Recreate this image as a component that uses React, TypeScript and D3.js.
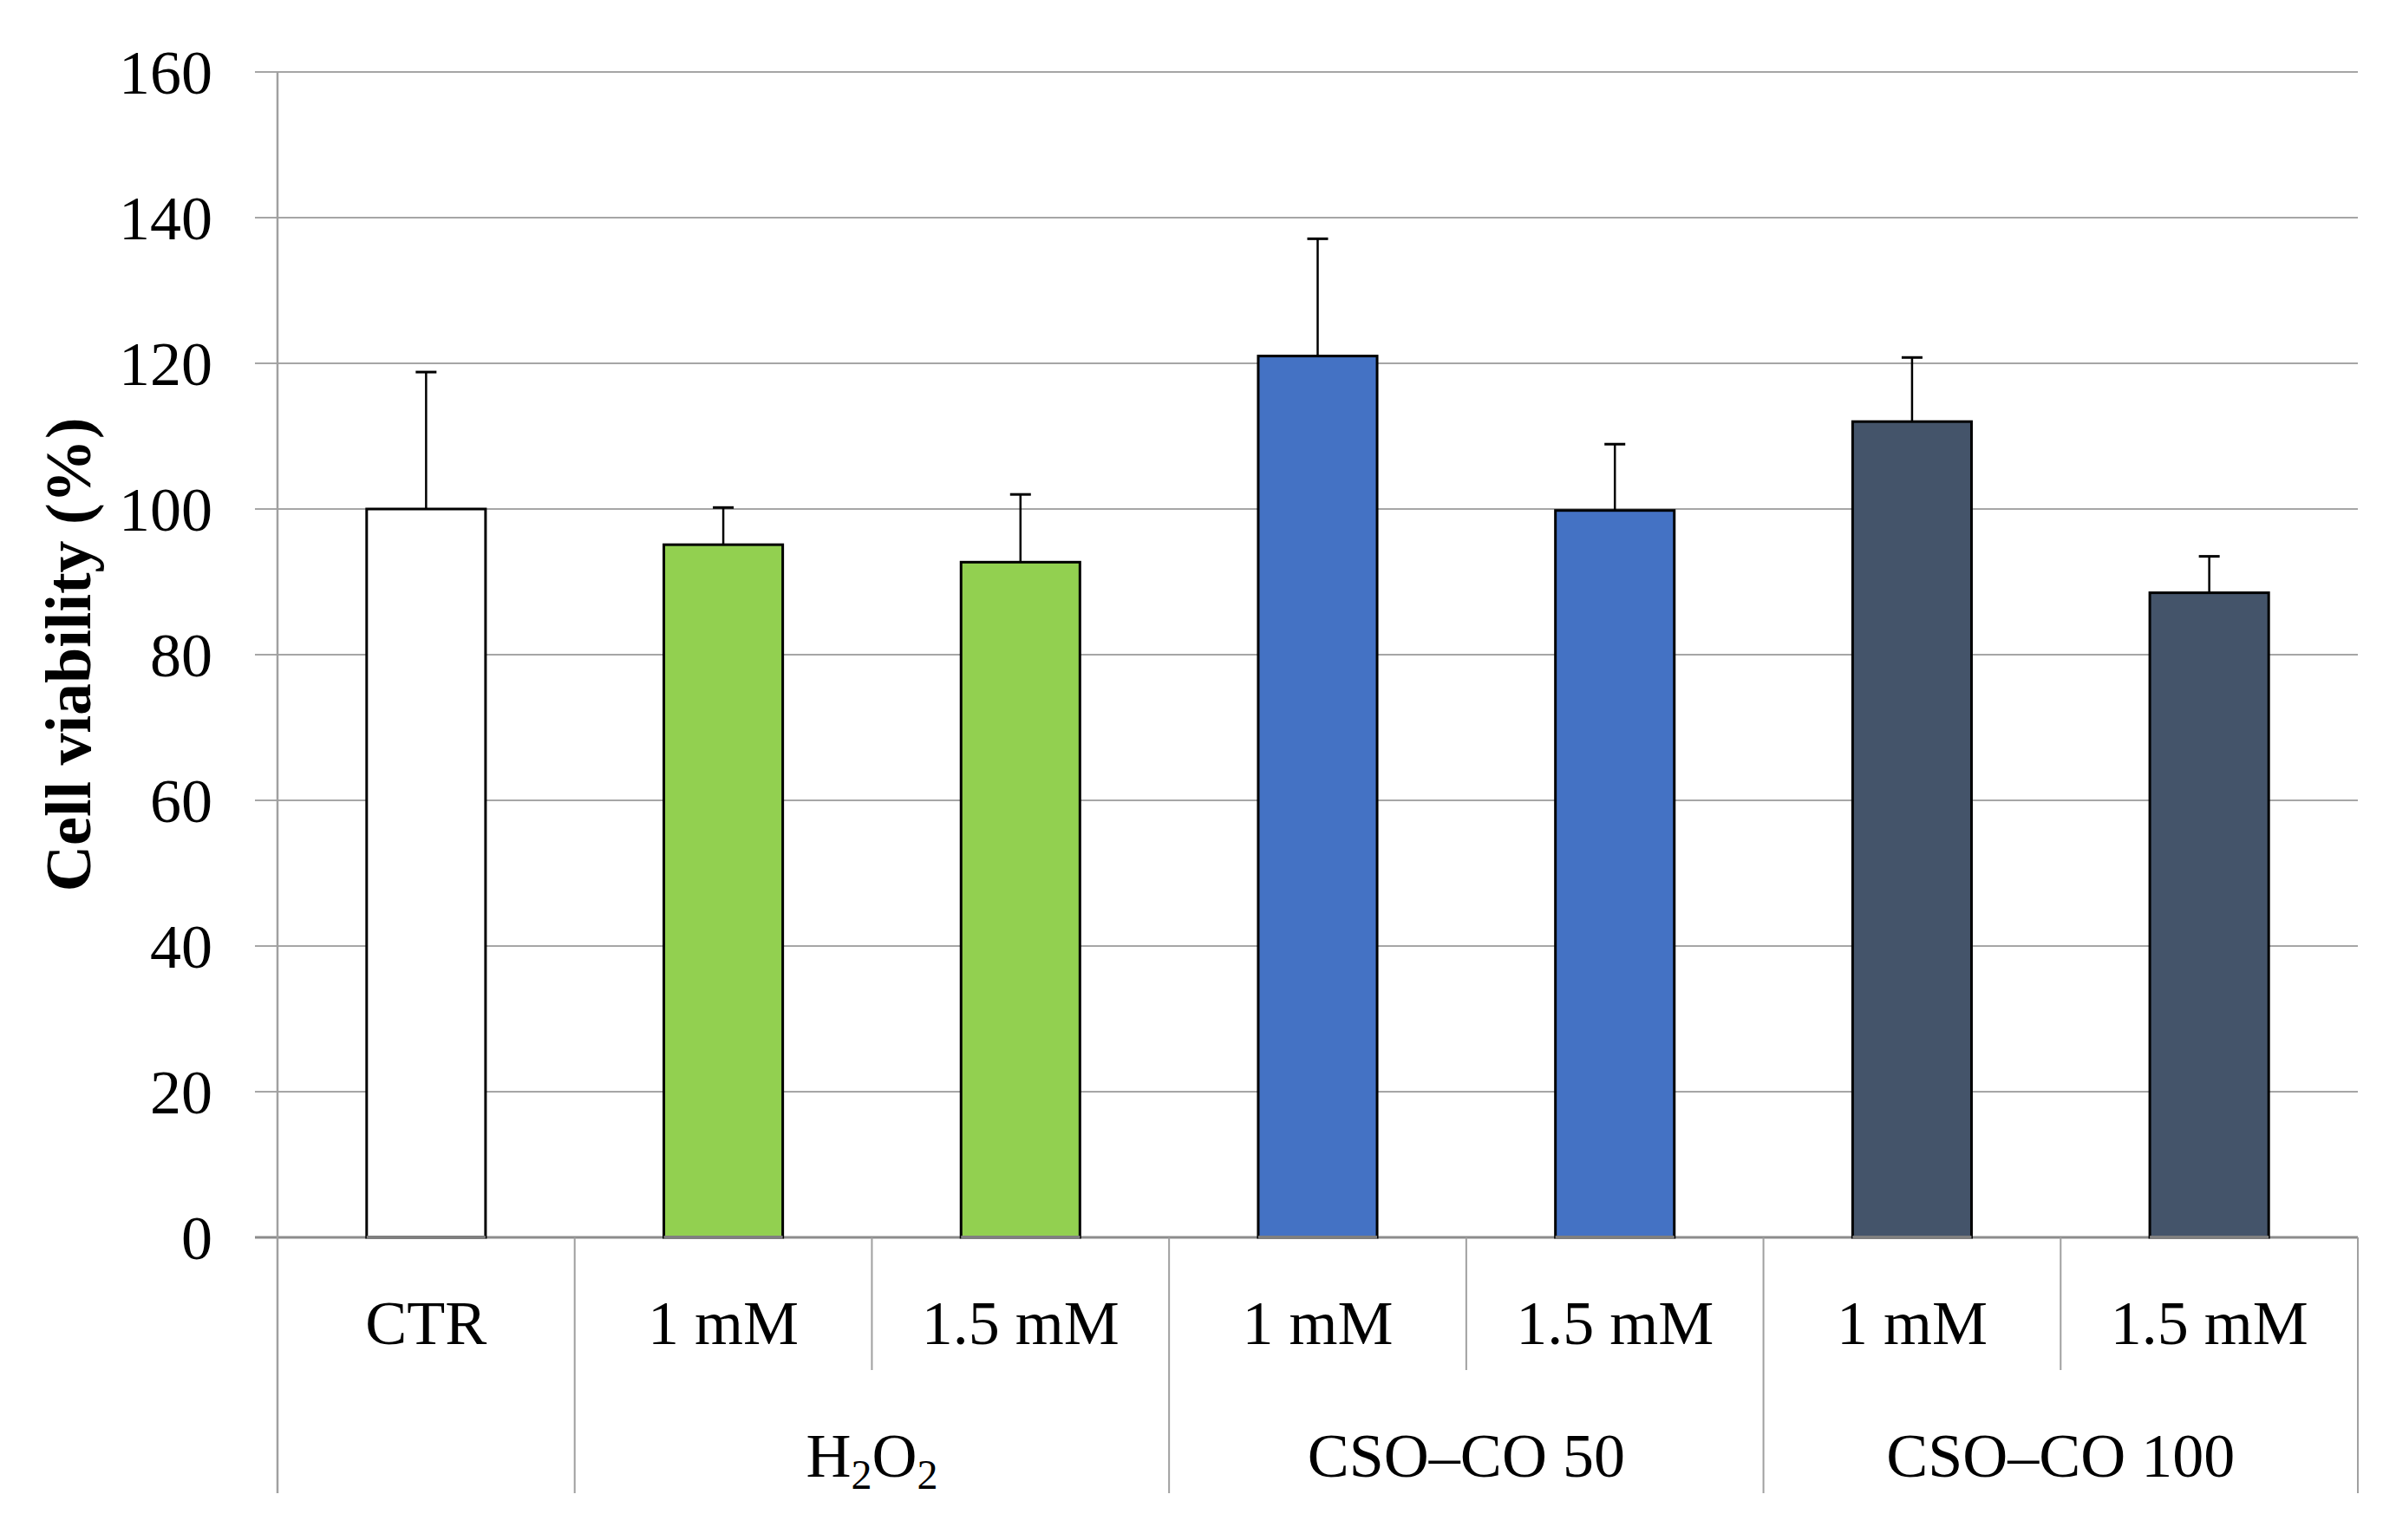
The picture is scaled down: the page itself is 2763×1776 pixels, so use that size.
import React from "react";
import * as d3 from "d3";

// values
const categories = ["CTR", "H2O2 1 mM", "H2O2 1.5 mM", "CSO50 1 mM", "CSO50 1.5 mM", "CSO100 1 mM", "CSO100 1.5 mM"];
const subLabels = ["CTR", "1 mM", "1.5 mM", "1 mM", "1.5 mM", "1 mM", "1.5 mM"];
const viability = [100, 95.1, 92.7, 121.0, 99.8, 112.0, 88.5];
const sdUpper = [18.8, 5.1, 9.3, 16.1, 9.1, 8.8, 5.0];
const barColors = ["#ffffff", "#92d050", "#92d050", "#4472c4", "#4472c4", "#44546a", "#44546a"];
const groups = [
  { label: "", from: 0, to: 0 },
  { label: "H2O2", from: 1, to: 2 },
  { label: "CSO–CO 50", from: 3, to: 4 },
  { label: "CSO–CO 100", from: 5, to: 6 },
];
const yTicks = [0, 20, 40, 60, 80, 100, 120, 140, 160];

const W = 2763;
const H = 1776;
const margin = { top: 83, right: 44, bottom: 349, left: 320 };

const App: React.FC = () => {
  const x = d3
    .scaleBand<string>()
    .domain(categories)
    .range([margin.left, W - margin.right])
    .paddingInner(0)
    .paddingOuter(0);

  const y = d3
    .scaleLinear()
    .domain([0, 160])
    .range([H - margin.bottom, margin.top]);

  const bw = x.bandwidth();
  const barW = bw * 0.4;
  const y0 = y(0);
  const font = "'Liberation Serif', 'Times New Roman', serif";
  const subBottom = 1580;
  const fullBottom = 1722;

  // separator lines below the axis
  const boundaries: { x: number; full: boolean }[] = [];
  categories.forEach((c, i) => {
    const isGroupStart = groups.some((g) => g.from === i);
    boundaries.push({ x: x(c)!, full: isGroupStart });
  });
  boundaries.push({ x: x(categories[categories.length - 1])! + bw, full: true });

  return (
    <svg
      width={W}
      height={H}
      style={{ position: "absolute", left: 0, top: 0, background: "#fff" }}
      fontFamily={font}
    >
      {/* gridlines */}
      {yTicks.map((t) => (
        <g key={t}>
          <line
            x1={margin.left - 26}
            x2={W - margin.right}
            y1={y(t)}
            y2={y(t)}
            stroke={t === 0 ? "#8c8c8c" : "#a6a6a6"}
            strokeWidth={t === 0 ? 3 : 2.2}
          />
          <text
            x={245}
            y={y(t)}
            dy="0.35em"
            textAnchor="end"
            fontSize={72}
            fill="#000"
          >
            {t}
          </text>
        </g>
      ))}

      {/* left axis */}
      <line x1={margin.left} x2={margin.left} y1={margin.top} y2={fullBottom} stroke="#a0a0a0" strokeWidth={2.5} />

      {/* category separators */}
      {boundaries.slice(1).map((b, i) => (
        <line
          key={i}
          x1={b.x}
          x2={b.x}
          y1={y0}
          y2={b.full ? fullBottom : subBottom}
          stroke="#a0a0a0"
          strokeWidth={2}
        />
      ))}

      {/* bars */}
      {categories.map((c, i) => {
        const cx = x(c)! + bw / 2;
        return (
          <g key={c}>
            <rect
              x={cx - barW / 2}
              y={y(viability[i])}
              width={barW}
              height={y0 - y(viability[i])}
              fill={barColors[i]}
              stroke="#000"
              strokeWidth={3}
            />
            <line x1={cx - barW / 2} x2={cx + barW / 2} y1={y0} y2={y0} stroke="#7f7f7f" strokeWidth={4} />
            <line
              x1={cx}
              x2={cx}
              y1={y(viability[i])}
              y2={y(viability[i] + sdUpper[i])}
              stroke="#000"
              strokeWidth={2.5}
            />
            <line
              x1={cx - 12}
              x2={cx + 12}
              y1={y(viability[i] + sdUpper[i])}
              y2={y(viability[i] + sdUpper[i])}
              stroke="#000"
              strokeWidth={3}
            />
            <text x={cx} y={1550} textAnchor="middle" fontSize={72} fill="#000">
              {subLabels[i]}
            </text>
          </g>
        );
      })}

      {/* group labels */}
      {groups
        .filter((g) => g.label)
        .map((g) => {
          const gx = (x(categories[g.from])! + x(categories[g.to])! + bw) / 2;
          return (
            <text key={g.label} x={gx} y={1703} textAnchor="middle" fontSize={72} fill="#000">
              {g.label === "H2O2" ? (
                <>
                  H<tspan fontSize={48} dy={14}>2</tspan>
                  <tspan dy={-14}>O</tspan>
                  <tspan fontSize={48} dy={14}>2</tspan>
                </>
              ) : (
                g.label
              )}
            </text>
          );
        })}

      {/* y axis title */}
      <text
        transform={`translate(104, ${(y(0) + y(160)) / 2}) rotate(-90)`}
        textAnchor="middle"
        fontSize={74}
        fontWeight="bold"
        fill="#000"
      >
        Cell viability (%)
      </text>
    </svg>
  );
};

export default App;
